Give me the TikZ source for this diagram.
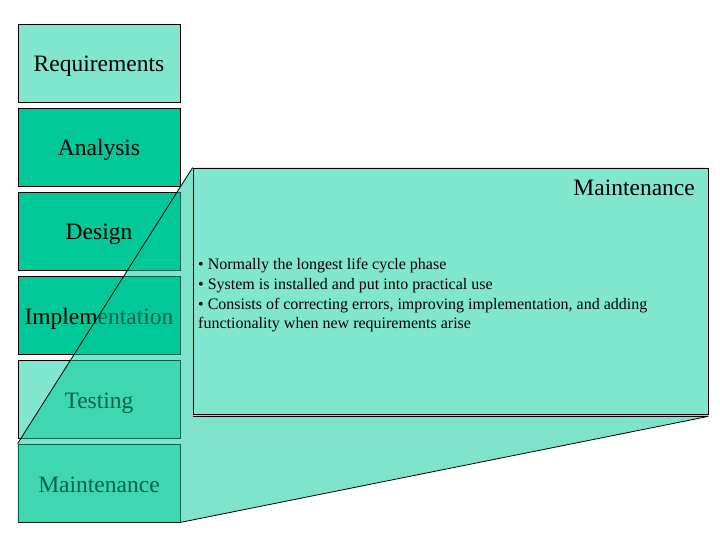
\documentclass[tikz,border=0pt]{standalone}
\usepackage{fontspec}
\setmainfont{LiberationSerif}[Extension=.ttf, UprightFont=*-Regular, BoldFont=*-Bold]
\definecolor{lightteal}{RGB}{128,230,206}
\definecolor{darkteal}{RGB}{0,200,152}
\pgfdeclarelayer{bg}
\pgfsetlayers{bg,main}
\begin{document}
\begin{tikzpicture}[x=1pt,y=-1pt,
  phase/.style={draw=black, line width=0.8pt, minimum width=162pt, minimum height=78pt,
    inner sep=0pt, text height=20pt, text depth=2pt, font=\fontsize{23.5}{28}\selectfont},
  detailbox/.style={draw=black, line width=0.8pt, fill=lightteal, minimum width=515pt,
    minimum height=246pt, inner sep=0pt},
  bullet/.style={anchor=base west, inner sep=0pt, font=\fontsize{16}{19}\selectfont},
  edge/.style={draw=black, line width=0.8pt}]
\useasboundingbox (0,0) rectangle (720,540);
% magnified detail box
\node[detailbox] (detail) at (450.5,291) {};
\node[anchor=base east, inner sep=0pt, font=\fontsize{23.5}{28}\selectfont] (title) at (695,196) {Maintenance};
\node[bullet] (b1) at (198,269.7) {• Normally the longest life cycle phase};
\node[bullet] (b2) at (198,289.3) {• System is installed and put into practical use};
\node[bullet] (b3) at (198,309) {• Consists of correcting errors, improving implementation, and adding};
\node[bullet] (b4) at (198,328.7) {functionality when new requirements arise};
\begin{pgfonlayer}{bg}
\node[phase, fill=lightteal] (req) at (99,63) {Requirements};
\node[phase, fill=darkteal] (ana) at (99,147) {Analysis};
\node[phase, fill=darkteal] (des) at (99,231) {Design};
\node[phase, fill=darkteal] (imp) at (99,315) {Implementation};
\node[phase, fill=lightteal] (tst) at (99,399) {Testing};
\node[phase, fill=lightteal] (mnt) at (99,483) {Maintenance};
\fill[darkteal, fill opacity=0.5] (mnt.south west) -- (mnt.north west) -- (detail.north west)
  -- (detail.north east) -- ([yshift=-2pt]detail.south east) -- (mnt.south east) -- cycle;
\draw[edge] (mnt.north west) -- (detail.north west);
\draw[edge] (mnt.south east) -- ([yshift=-2pt]detail.south east);
\draw[edge] ([yshift=-2pt]detail.south west) -- ([yshift=-2pt]detail.south east);
\end{pgfonlayer}
\end{tikzpicture}
\end{document}
